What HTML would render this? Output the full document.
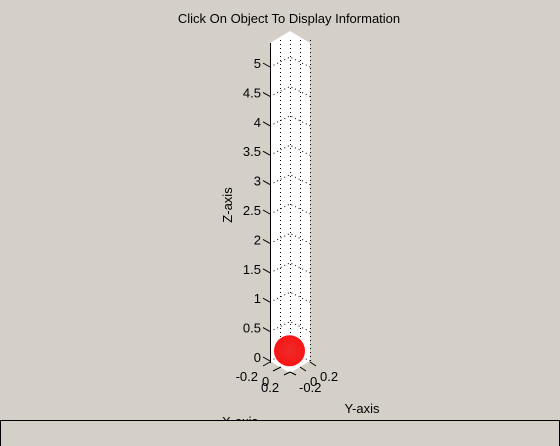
<!DOCTYPE html>
<html><head><meta charset="utf-8"><style>
html,body{margin:0;padding:0;background:#d4d0c8;}
svg{display:block;font-family:"Liberation Sans",sans-serif;}
</style></head><body>
<svg id="chart" width="560" height="446" viewBox="0 0 560 446">
<defs>
<radialGradient id="ballg" cx="0.5" cy="0.5" r="0.5">
<stop offset="0" stop-color="#ee2a2a"/><stop offset="0.8" stop-color="#f51a1a"/><stop offset="1" stop-color="#ff1010"/>
</radialGradient>
</defs>
<rect width="560" height="446" fill="#d4d0c8"/>
<text x="289" y="23" text-anchor="middle" font-size="13" fill="#000">Click On Object To Display Information</text>
<polygon points="270,43 290,31 310,43 310,361 290,373 270,361" fill="#fff"/>
<g id="grid"></g>
<line x1="270.5" y1="43" x2="270.5" y2="363" stroke="#000" stroke-width="1"/>
<g id="ticks"></g>
<g id="balls"></g>
<g stroke="#000" stroke-width="1">
<line x1="263" y1="366" x2="270" y2="362"/>
<line x1="273" y1="371" x2="281" y2="367"/>
<line x1="284" y1="375" x2="290" y2="372"/>
<line x1="290" y1="372" x2="296" y2="375"/>
<line x1="300" y1="367" x2="306" y2="371"/>
<line x1="310" y1="362" x2="316" y2="366"/>
</g>
<text x="258" y="381" text-anchor="end" font-size="13">-0.2</text>
<text x="262" y="386" font-size="13">0</text>
<text x="261" y="392" font-size="13">0.2</text>
<text x="299" y="392" font-size="13">-0.2</text>
<text x="310" y="386" font-size="13">0</text>
<text x="320" y="381" font-size="13">0.2</text>
<text x="362" y="413" text-anchor="middle" font-size="13">Y-axis</text>
<text x="240" y="426" text-anchor="middle" font-size="13">X-axis</text>
<text transform="translate(232,205) rotate(-90)" text-anchor="middle" font-size="13">Z-axis</text>
<rect x="0.5" y="420.5" width="559" height="30" fill="#d4d0c8" stroke="#000" stroke-width="1"/>
</svg>
<script>
const zTicks = [0, 0.5, 1, 1.5, 2, 2.5, 3, 3.5, 4, 4.5, 5];
const zTickLabels = ["0","0.5","1","1.5","2","2.5","3","3.5","4","4.5","5"];
const ballZ = [0.14];
const ballLabels = ["object-1"];
const NS = "http://www.w3.org/2000/svg";
function zScale(v){ return 357 - v * 58.8; }
const grid = document.getElementById('grid');
const ticks = document.getElementById('ticks');
function mk(tag, attrs, parent){ const e=document.createElementNS(NS,tag); for(const k in attrs) e.setAttribute(k,attrs[k]); parent.appendChild(e); return e; }
[280,290,300,310].forEach(function(x){
  const l = mk('line',{x1:x+0.5,y1:40,x2:x+0.5,y2:362,stroke:'#000','stroke-dasharray':'1,3','stroke-width':1},grid);
  
  
});
zTicks.forEach(function(v,i){
  const y = zScale(v);
  const g = mk('polyline',{points:'270,'+(y+4)+' 290,'+(y-6)+' 310,'+(y+4),fill:'none',stroke:'#000','stroke-dasharray':'1,3','stroke-width':1},grid);
  
  
  const t = mk('line',{x1:263,y1:y,x2:270,y2:y+4,stroke:'#000','stroke-width':1},ticks);
  
  
  const tx = mk('text',{x:261,y:y+5,'text-anchor':'end','font-size':13,fill:'#000'},ticks);
  tx.textContent = zTickLabels[i];
  
  
});
const balls = document.getElementById('balls');
ballZ.forEach(function(v,i){
  const c = mk('circle',{cx:289.5,cy:zScale(v)+2,r:15.5,fill:'url(#ballg)'},balls);
  
  
});
</script>
</body></html>
